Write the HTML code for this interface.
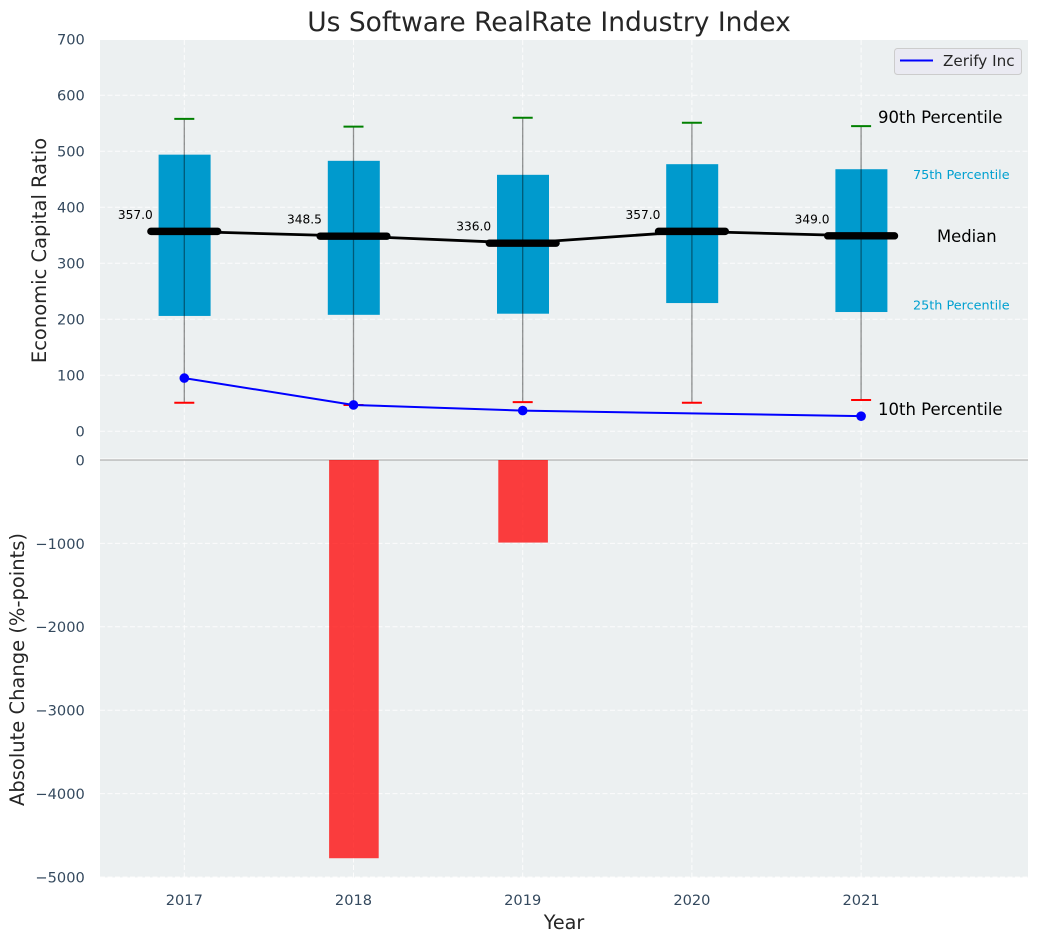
<!DOCTYPE html>
<html lang="en">
<head>
<meta charset="utf-8">
<title>Us Software RealRate Industry Index</title>
<style>
html,body{margin:0;padding:0;background:#fff;width:1039px;height:942px;overflow:hidden}
svg{display:block;font-family:"DejaVu Sans","Liberation Sans",sans-serif}
</style>
</head>
<body>
<svg id="chart" xmlns="http://www.w3.org/2000/svg" width="1039" height="942" viewBox="0 0 1039 942"></svg>
<script>
const years = [2017, 2018, 2019, 2020, 2021];
const p90 = [558, 544, 560, 551, 545];
const p75 = [494, 483, 458, 477, 468];
const medians = [357, 348.5, 336, 357, 349];
const p25 = [206, 208, 210, 229, 213];
const p10 = [51, 47, 52, 51, 56];
const companyValues = [95, 47, 37, null, 27];
const changeValues = [0, -4775, -990, 0, 0];
const topTicks = [0, 100, 200, 300, 400, 500, 600, 700];
const bottomTicks = [0, -1000, -2000, -3000, -4000, -5000];

const svg = document.getElementById('chart');
const NS = 'http://www.w3.org/2000/svg';
const xScale = y => 184.3 + (y - 2017) * 169.2;
const yTop = v => 431.3 - v * 0.56;
const yBottom = v => 460 + (-v) * 0.0834;
const tickColor = '#34495e';
const boxColor = '#009ACD';

function make(tag, attrs, text) {
  const el = document.createElementNS(NS, tag);
  for (const k in attrs) el.setAttribute(k, attrs[k]);
  if (text !== undefined) el.textContent = text;
  svg.appendChild(el);
  return el;
}
function fmt(v) { return String(v).replace('-', '\u2212'); }
let el;

el = make('rect', {x: 100, y: 40, width: 928, height: 837.5, fill: '#ecf0f1'});



const gridStyle = {stroke: '#ffffff', 'stroke-width': 1, 'stroke-dasharray': '5 2.5', opacity: 0.85};
topTicks.forEach(t => {
  el = make('line', {x1: 100, x2: 1028, y1: yTop(t), y2: yTop(t), ...gridStyle});
  
  
  el = make('text', {x: 84.8, y: yTop(t) + 5.4, 'text-anchor': 'end', 'font-size': 14.6, fill: tickColor}, fmt(t));
  
  
});
bottomTicks.forEach(t => {
  el = make('line', {x1: 100, x2: 1028, y1: yBottom(t), y2: yBottom(t), ...gridStyle});
  
  
  el = make('text', {x: 84.8, y: yBottom(t) + 5.4, 'text-anchor': 'end', 'font-size': 14.6, fill: tickColor}, fmt(t));
  
  
});
years.forEach(y => {
  el = make('line', {x1: xScale(y), x2: xScale(y), y1: 40, y2: 877.5, ...gridStyle});
  
  
  el = make('text', {x: xScale(y), y: 905, 'text-anchor': 'middle', 'font-size': 14.6, fill: tickColor}, y);
  
  
});

years.forEach((y, i) => {
  const cx = xScale(y);
  el = make('rect', {x: cx - 26 + 0.3, y: yTop(p75[i]), width: 52, height: yTop(p25[i]) - yTop(p75[i]), fill: boxColor});
  
  
  el = make('line', {x1: cx, x2: cx, y1: yTop(p90[i]), y2: yTop(p10[i]), stroke: '#000', 'stroke-width': 1.3, opacity: 0.42});
  
  
  el = make('line', {x1: cx - 10, x2: cx + 10, y1: yTop(p90[i]), y2: yTop(p90[i]), stroke: '#008000', 'stroke-width': 2});
  
  
  el = make('line', {x1: cx - 10, x2: cx + 10, y1: yTop(p10[i]), y2: yTop(p10[i]), stroke: '#ff0000', 'stroke-width': 2});
  
  
});

el = make('polyline', {
  points: years.map((y, i) => xScale(y) + ',' + yTop(medians[i])).join(' '),
  fill: 'none', stroke: '#000', 'stroke-width': 2.8
});



years.forEach((y, i) => {
  const cx = xScale(y);
  el = make('line', {x1: cx - 33.4, x2: cx + 33.4, y1: yTop(medians[i]), y2: yTop(medians[i]), stroke: '#000', 'stroke-width': 7.4, 'stroke-linecap': 'round'});
  
  
  el = make('text', {x: cx - 49, y: yTop(medians[i]) - 12.4, 'text-anchor': 'middle', 'font-size': 12.2, fill: '#000'}, medians[i].toFixed(1));
  
  
});

el = make('polyline', {
  points: years.map((y, i) => companyValues[i] === null ? null : xScale(y) + ',' + yTop(companyValues[i])).filter(Boolean).join(' '),
  fill: 'none', stroke: '#0000ff', 'stroke-width': 2
});


years.forEach((y, i) => {
  if (companyValues[i] === null) return;
  el = make('circle', {cx: xScale(y), cy: yTop(companyValues[i]), r: 4.8, fill: '#0000ff'});
  
  
});

el = make('line', {x1: 100, x2: 1028, y1: 459, y2: 459, stroke: '#ffffff', 'stroke-width': 1});


el = make('line', {x1: 100, x2: 1028, y1: 460, y2: 460, stroke: '#b0b0b0', 'stroke-width': 1.2});



years.forEach((y, i) => {
  if (!changeValues[i]) return;
  el = make('rect', {x: xScale(y) - 24.7 + 0.3, y: yBottom(0), width: 49.6, height: yBottom(changeValues[i]) - yBottom(0), fill: '#ff0000', 'fill-opacity': 0.75});
  
  
});

const last = years.length - 1;
el = make('text', {x: 878, y: yTop(p90[last]) - 3.2, 'font-size': 16.5, fill: '#000'}, '90th Percentile');


el = make('text', {x: 913, y: yTop(p75[last]) + 10, 'font-size': 12.8, fill: '#00a0d0'}, '75th Percentile');


el = make('text', {x: 937, y: yTop(medians[last]) + 6, 'font-size': 16.4, fill: '#000'}, 'Median');


el = make('text', {x: 913, y: yTop(p25[last]) - 2.5, 'font-size': 12.8, fill: '#00a0d0'}, '25th Percentile');


el = make('text', {x: 878, y: yTop(p10[last]) + 15, 'font-size': 16.5, fill: '#000'}, '10th Percentile');



el = make('rect', {x: 894.5, y: 48.5, width: 127, height: 26, rx: 3, fill: '#eaeaf2', stroke: '#cccccc', 'stroke-width': 1});


el = make('line', {x1: 900, x2: 933, y1: 60.5, y2: 60.5, stroke: '#0000ff', 'stroke-width': 2});


el = make('text', {x: 943, y: 66, 'font-size': 15.2, fill: '#262626'}, 'Zerify Inc');



el = make('text', {x: 549, y: 31, 'text-anchor': 'middle', 'font-size': 26.5, fill: '#262626'}, 'Us Software RealRate Industry Index');


el = make('text', {x: 564, y: 929, 'text-anchor': 'middle', 'font-size': 19.2, fill: '#262626'}, 'Year');


el = make('text', {x: 0, y: 0, transform: 'translate(46,250.5) rotate(-90)', 'text-anchor': 'middle', 'font-size': 19.5, fill: '#262626'}, 'Economic Capital Ratio');


el = make('text', {x: 0, y: 0, transform: 'translate(24,669.5) rotate(-90)', 'text-anchor': 'middle', 'font-size': 19.5, fill: '#262626'}, 'Absolute Change (%-points)');


</script>
</body>
</html>
